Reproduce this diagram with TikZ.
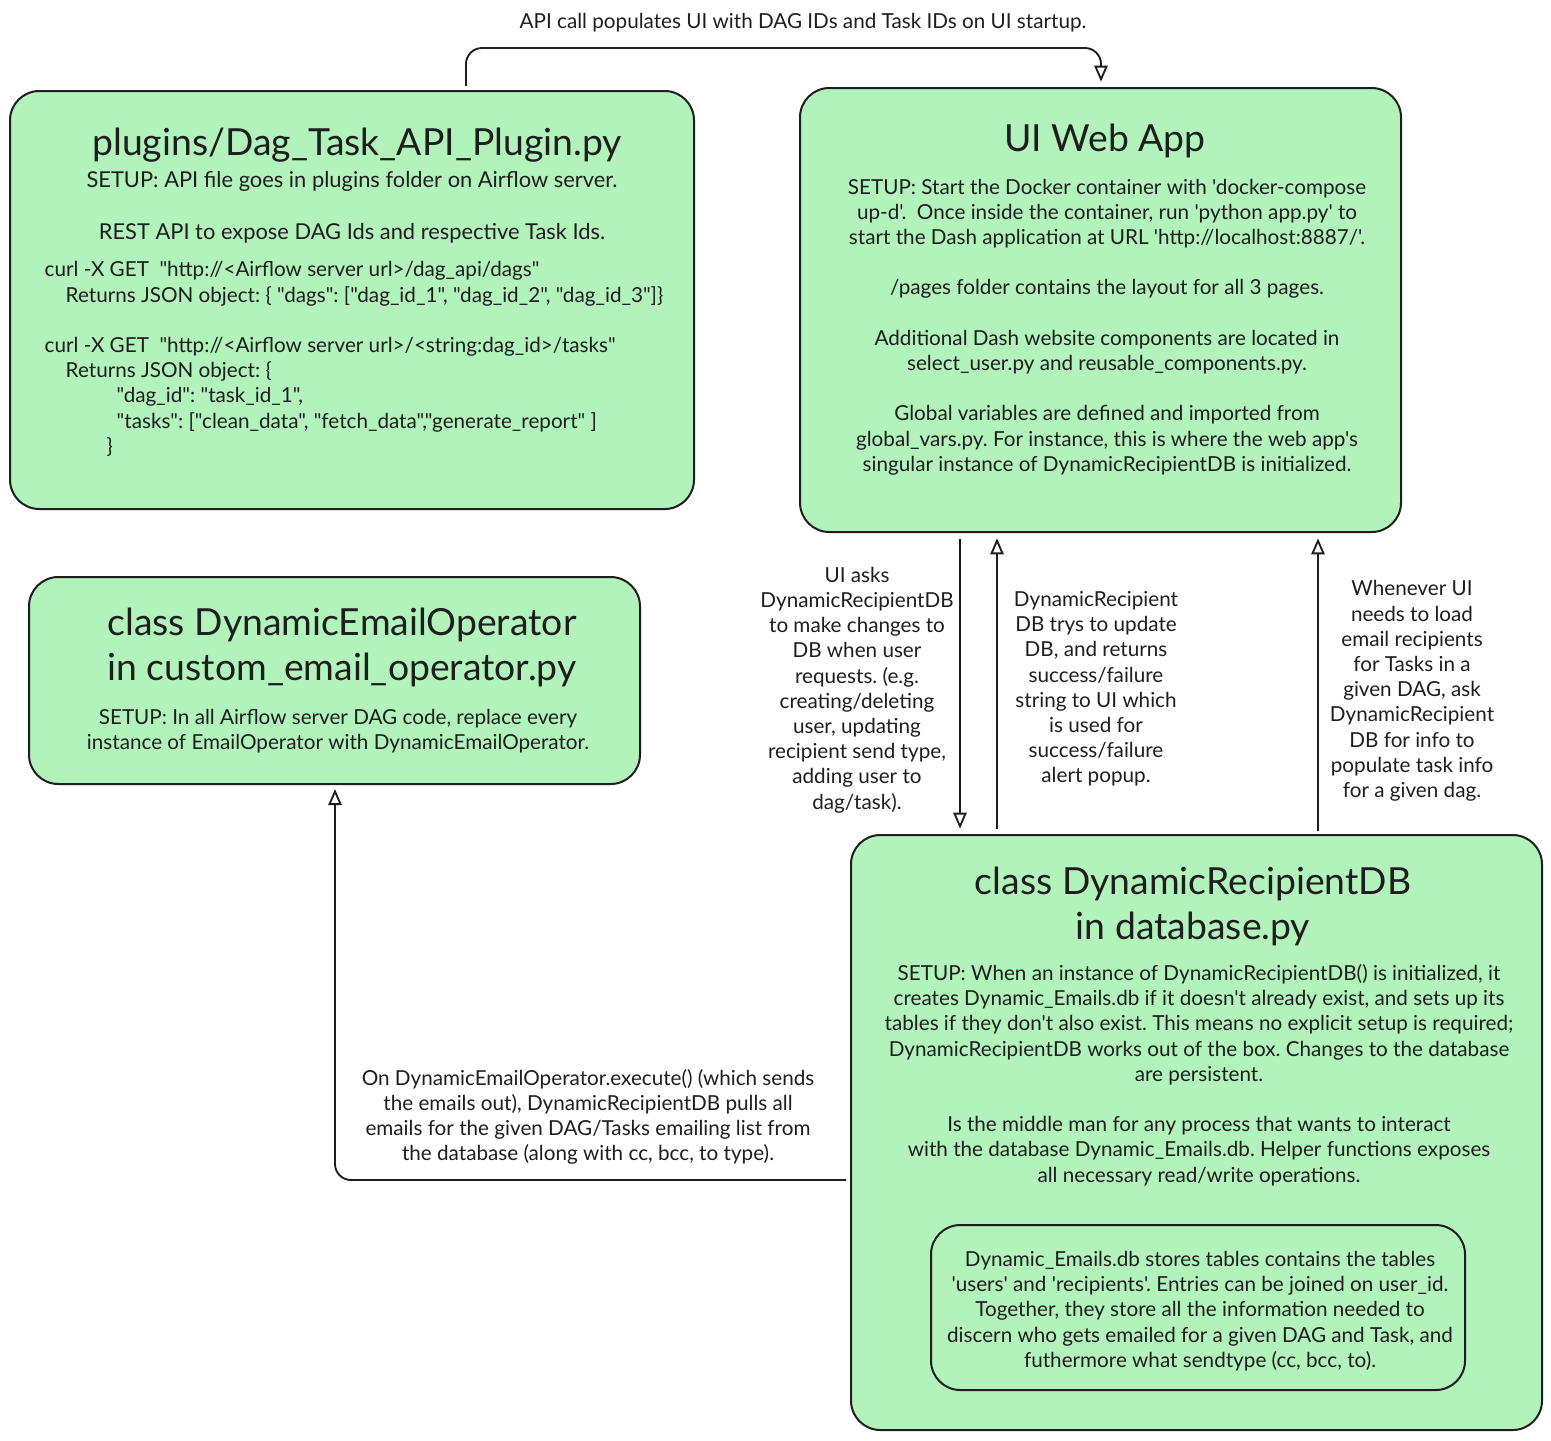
\documentclass[tikz,border=0pt]{standalone}
\usepackage{fontspec}
\setmainfont{Lato}[Ligatures=TeXOff]
\usetikzlibrary{arrows.meta, fit}
\frenchspacing
\definecolor{ink}{HTML}{1E1E1E}
\definecolor{mint}{HTML}{B2F2BB}
\tikzset{
  box/.style={draw=ink, fill=mint, line width=1.5pt, rounded corners=22pt, inner sep=0pt},
  title/.style={text=ink, align=center, font=\fontsize{28}{33.75}\selectfont},
  body/.style={text=ink, align=center, font=\fontsize{15.5}{18.9}\selectfont},
  flow/.style={draw=ink, line width=1.4pt, -{Triangle[open, length=12pt, width=10pt]}},
}
\begin{document}
\begin{tikzpicture}[x=0.75pt, y=-0.75pt]
\useasboundingbox (0,0) rectangle (1551,1440);

\node[box, fit={(10,91) (694,509)}] (api) {};
\node[box, fit={(800,88) (1401,532)}] (ui) {};
\node[box, fit={(29,577) (640,784)}] (dop) {};
\node[box, fit={(851,835) (1542,1430)}] (db) {};
\node[box, fit={(931,1225) (1465,1390)}] (emails) {};

\node[title] (apiTitle) at (357,145) {plugins/Dag\_Task\_API\_Plugin.py};
\node[body, font=\fontsize{16.4}{19.5}\selectfont] (apiSetup) at (352,207) {SETUP: API file goes in plugins folder on Airflow server.\\[\baselineskip]
REST API to expose DAG Ids and respective Task Ids.};
\node[body, align=left, anchor=west] (apiCurl) at (40,359) {curl -X GET\ \ "http://<Airflow server url>/dag\_api/dags"\\
\hspace*{15.75pt}Returns JSON object: \{ "dags": ["dag\_id\_1", "dag\_id\_2", "dag\_id\_3"]\}\\[\baselineskip]
curl -X GET\ \ "http://<Airflow server url>/<string:dag\_id>/tasks"\\
\hspace*{15.75pt}Returns JSON object: \{\\
\hspace*{54pt}"dag\_id": "task\_id\_1",\\
\hspace*{54pt}"tasks": ["clean\_data", "fetch\_data","generate\_report" ]\\
\hspace*{46.5pt}\}};

\node[title] (uiTitle) at (1105,141) {UI Web App};
\node[body] (uiText) at (1107,327) {SETUP: Start the Docker container with 'docker-compose\\
up-d'.\ \ Once inside the container, run 'python app.py' to\\
start the Dash application at URL 'http://localhost:8887/'.\\[\baselineskip]
/pages folder contains the layout for all 3 pages.\\[\baselineskip]
Additional Dash website components are located in\\
select\_user.py and reusable\_components.py.\\[\baselineskip]
Global variables are defined and imported from\\
global\_vars.py. For instance, this is where the web app's\\
singular instance of DynamicRecipientDB is initialized.};

\node[title] (dopTitle) at (342,647) {class DynamicEmailOperator\\ in custom\_email\_operator.py};
\node[body] (dopText) at (338,731) {SETUP: In all Airflow server DAG code, replace every\\
instance of EmailOperator with DynamicEmailOperator.};

\node[title] (dbTitle) at (1193,906) {class DynamicRecipientDB\\ in database.py};
\node[body] (dbText) at (1199,1075) {SETUP: When an instance of DynamicRecipientDB() is initialized, it\\
creates Dynamic\_Emails.db if it doesn't already exist, and sets up its\\
tables if they don't also exist. This means no explicit setup is required;\\
DynamicRecipientDB works out of the box. Changes to the database\\
are persistent.\\[\baselineskip]
Is the middle man for any process that wants to interact\\
with the database Dynamic\_Emails.db. Helper functions exposes\\
all necessary read/write operations.};
\node[body] (emailsText) at (1200,1311) {Dynamic\_Emails.db stores tables contains the tables\\
'users' and 'recipients'. Entries can be joined on user\_id.\\
Together, they store all the information needed to\\
discern who gets emailed for a given DAG and Task, and\\
futhermore what sendtype (cc, bcc, to).};

\draw[flow, rounded corners=12pt, shorten <=3pt, shorten >=4pt] (api.north -| 466,0) |- (1101,48) -- (ui.north -| 1101,0);
\node[body] (lblStartup) at (803,23) {API call populates UI with DAG IDs and Task IDs on UI startup.};

\draw[flow, shorten <=4.5pt, shorten >=4pt] (ui.south -| 960,0) -- (db.north -| 960,0);
\node[body] (lblAsk) at (857,690) {UI asks\\ DynamicRecipientDB\\ to make changes to\\ DB when user\\ requests. (e.g.\\ creating/deleting\\ user, updating\\ recipient send type,\\ adding user to\\ dag/task).};

\draw[flow, shorten <=4pt, shorten >=4pt] (db.north -| 997,0) -- (ui.south -| 997,0);
\node[body] (lblReply) at (1096,689) {DynamicRecipient\\ DB trys to update\\ DB, and returns\\ success/failure\\ string to UI which\\ is used for\\ success/failure\\ alert popup.};

\draw[flow, shorten <=2pt, shorten >=4pt] (db.north -| 1318,0) -- (ui.south -| 1318,0);
\node[body] (lblLoad) at (1412,691) {Whenever UI\\ needs to load\\ email recipients\\ for Tasks in a\\ given DAG, ask\\ DynamicRecipient\\ DB for info to\\ populate task info\\ for a given dag.};

\draw[flow, rounded corners=12pt, shorten <=3pt, shorten >=3pt] (db.west |- 0,1180) -| (dop.south -| 335,0);
\node[body] (lblPull) at (588,1117) {On DynamicEmailOperator.execute() (which sends\\ the emails out), DynamicRecipientDB pulls all\\ emails for the given DAG/Tasks emailing list from\\ the database (along with cc, bcc, to type).};

\end{tikzpicture}
\end{document}
